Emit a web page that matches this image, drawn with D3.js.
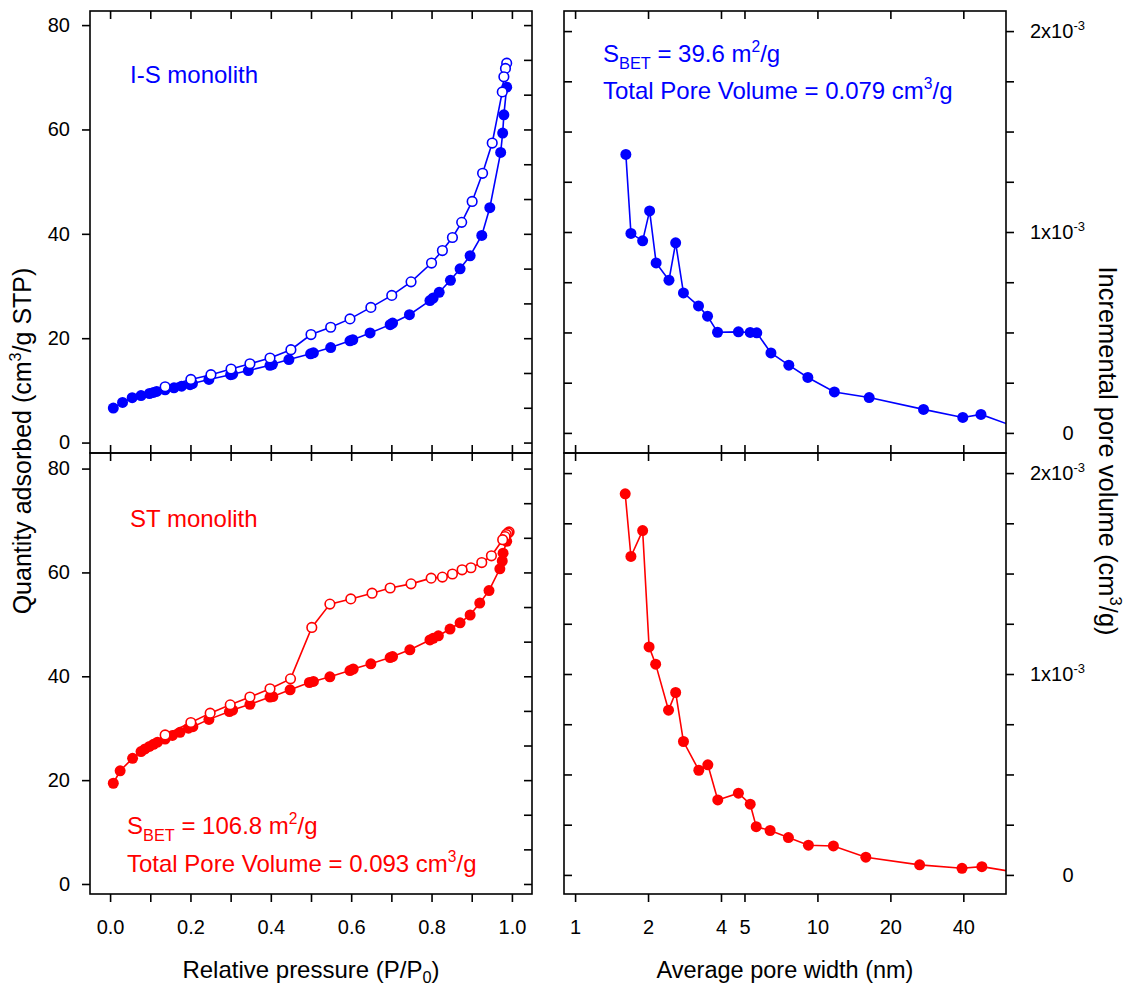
<!DOCTYPE html>
<html>
<head>
<meta charset="utf-8">
<script src="https://cdn.jsdelivr.net/npm/d3@7"></script>
<style>
  body { margin: 0; background: #fff; }
  svg text { font-family: "Liberation Sans", Arial, Helvetica, sans-serif; }
</style>
</head>
<body>
<svg id="chart" width="1127" height="988"></svg>
<script>
// ---------- Nitrogen isotherms: [relative pressure P/P0, quantity adsorbed cm3/g STP] ----------
const isAdsorption = [
  [0.008,6.6],[0.031,7.7],[0.055,8.6],[0.077,9.0],[0.098,9.4],[0.108,9.6],[0.116,9.8],[0.137,10.1],
  [0.159,10.5],[0.178,10.8],[0.199,11.1],[0.205,11.3],[0.246,12.1],[0.300,13.0],[0.305,13.1],[0.344,13.8],
  [0.398,14.8],[0.404,15.0],[0.445,15.9],[0.499,17.0],[0.506,17.2],[0.549,18.2],[0.597,19.5],[0.604,19.7],
  [0.647,21.0],[0.697,22.6],[0.703,22.9],[0.745,24.5],[0.796,27.2],[0.804,27.7],[0.819,28.8],[0.847,31.1],
  [0.871,33.3],[0.896,35.8],[0.925,39.7],[0.945,45.0],[0.972,55.6],[0.977,59.3],[0.980,62.8],[0.987,68.1]
];
const isDesorption = [
  [0.987,72.7],[0.984,71.7],[0.980,70.1],[0.976,67.2],[0.951,57.4],[0.927,51.6],[0.901,46.2],[0.875,42.2],
  [0.852,39.3],[0.827,36.8],[0.800,34.4],[0.749,30.8],[0.701,28.2],[0.649,25.9],[0.597,23.7],[0.549,22.1],
  [0.500,20.7],[0.450,17.8],[0.398,16.2],[0.348,15.1],[0.301,14.1],[0.251,13.0],[0.201,12.1],[0.137,10.7]
];
const stAdsorption = [
  [0.008,19.4],[0.025,21.8],[0.056,24.2],[0.077,25.5],[0.087,26.0],[0.098,26.5],[0.108,26.9],[0.118,27.3],
  [0.137,27.9],[0.155,28.6],[0.174,29.2],[0.195,30.0],[0.206,30.3],[0.246,31.7],[0.297,33.2],[0.305,33.5],
  [0.348,34.6],[0.398,36.0],[0.405,36.1],[0.448,37.4],[0.496,38.8],[0.506,39.0],[0.547,39.9],[0.597,41.1],
  [0.605,41.4],[0.649,42.4],[0.697,43.6],[0.703,43.8],[0.746,45.1],[0.796,47.0],[0.804,47.3],[0.817,47.8],
  [0.846,49.1],[0.871,50.3],[0.896,51.8],[0.920,54.1],[0.943,56.5],[0.970,60.7],[0.976,62.2],[0.978,63.7],
  [0.987,66.0]
];
const stDesorption = [
  [0.993,67.8],[0.990,67.6],[0.986,67.3],[0.983,66.9],[0.977,66.3],[0.949,63.2],[0.925,61.9],[0.898,60.9],
  [0.876,60.5],[0.852,59.7],[0.827,59.1],[0.799,58.9],[0.749,57.8],[0.697,57.0],[0.652,56.0],[0.599,54.9],
  [0.547,53.9],[0.502,49.4],[0.449,39.5],[0.398,37.6],[0.348,36.0],[0.299,34.5],[0.249,32.9],[0.201,31.1],
  [0.137,28.7]
];

// ---------- Pore size distributions: width (nm) and incremental pore volume (cm3/g) ----------
const isPoreWidth  = [1.62,1.70,1.90,2.03,2.16,2.44,2.60,2.80,3.23,3.52,3.87,4.72,5.28,5.62,6.43,7.62,9.13,11.75,16.35,27.4,39.8,47.3,72];
const isPoreVolume = [1.386e-3,0.993e-3,0.956e-3,1.105e-3,0.846e-3,0.760e-3,0.946e-3,0.697e-3,0.632e-3,0.581e-3,0.501e-3,0.503e-3,
                      0.500e-3,0.498e-3,0.398e-3,0.337e-3,0.276e-3,0.204e-3,0.176e-3,0.117e-3,0.077e-3,0.092e-3,0.012e-3];
const stPoreWidth  = [1.61,1.70,1.90,2.02,2.15,2.43,2.60,2.80,3.24,3.53,3.88,4.72,5.28,5.59,6.38,7.59,9.18,11.64,15.84,26.4,39.5,47.7,72];
const stPoreVolume = [1.897e-3,1.585e-3,1.714e-3,1.135e-3,1.049e-3,0.820e-3,0.908e-3,0.664e-3,0.521e-3,0.548e-3,0.373e-3,0.407e-3,
                      0.352e-3,0.240e-3,0.221e-3,0.186e-3,0.148e-3,0.144e-3,0.088e-3,0.050e-3,0.033e-3,0.041e-3,0.006e-3];

// ---------- Ticks and labels ----------
const pressureTicks  = [0,0.1,0.2,0.3,0.4,0.5,0.6,0.7,0.8,0.9,1.0];
const pressureLabels = [0,0.2,0.4,0.6,0.8,1.0];
const quantityTicks  = [0,20,40,60,80];
const quantityMinor  = d3.range(13).map(i => i * 80 / 12);
const widthTicks     = [1,2,4,5,10,20,40];
const volumeTicks    = [0,0.25e-3,0.5e-3,0.75e-3,1e-3,1.25e-3,1.5e-3,1.75e-3,2e-3];
const volumeLabels   = [
  { v: 0,    text: "0",   exp: null },
  { v: 1e-3, text: "1x10", exp: "-3" },
  { v: 2e-3, text: "2x10", exp: "-3" }
];

const BLUE = "#0000ff", RED = "#ff0000";

// ---------- Layout ----------
const svg = d3.select("#chart");
svg.append("rect").attr("width", 1127).attr("height", 988).attr("fill", "#fff");

const colL = [90, 532], colR = [564, 1006];
const rowT = [11, 453], rowB = [453, 894];

const xP = d3.scaleLinear().domain([-0.05, 1.05]).range(colL);
const xW = d3.scaleLog().domain([0.9, 60]).range(colR);
const yQTop = d3.scaleLinear().domain([-2, 82.7]).range([rowT[1], rowT[0]]);
const yQBot = d3.scaleLinear().domain([-1.93, 83.0]).range([rowB[1], rowB[0]]);
const yVTop = d3.scaleLinear().domain([-0.1e-3, 2.1e-3]).range([rowT[1], rowT[0]]);
const yVBot = d3.scaleLinear().domain([-0.095e-3, 2.1e-3]).range([rowB[1], rowB[0]]);

const defs = svg.append("defs");
function clip(id, xr, yr) {
  defs.append("clipPath").attr("id", id).append("rect")
    .attr("x", xr[0]).attr("y", yr[0]).attr("width", xr[1] - xr[0]).attr("height", yr[1] - yr[0]);
  return "url(#" + id + ")";
}

const TICK_W = 1.6;
function styleAxis(g) {
  g.select(".domain").remove();
  g.selectAll(".tick line").attr("stroke", "#000").attr("stroke-width", TICK_W);
  g.selectAll(".tick text").attr("fill", "#000").attr("font-size", 20)
    .attr("font-family", '"Liberation Sans", Arial, sans-serif');
}
function addAxis(axis, tx, ty) {
  return svg.append("g").attr("transform", `translate(${tx},${ty})`).call(axis).call(styleAxis);
}

// Rich text helper: parts = [{t, sub|sup}]
function richText(parent, x, y, parts, size, color, extra, subShift) {
  const t = parent.append("text").attr("x", x).attr("y", y).attr("font-size", size).attr("fill", color);
  if (extra) extra(t);
  let shift = 0;
  parts.forEach(p => {
    let target = 0, fs = size;
    if (p.sub) { target = size * (subShift || 0.3); fs = size * 0.68; }
    if (p.sup) { target = -size * 0.42; fs = size * 0.65; }
    t.append("tspan").attr("dy", target - shift).attr("font-size", fs).text(p.t);
    shift = target;
  });
  return t;
}

// ---------- Series drawing ----------
const lineFor = (xs, ys) => d3.line().x(d => xs(d[0])).y(d => ys(d[1]));

function drawSeries(data, xs, ys, color, open, clipUrl) {
  const g = svg.append("g").attr("clip-path", clipUrl);
  g.append("path").datum(data).attr("d", lineFor(xs, ys))
    .attr("fill", "none").attr("stroke", color).attr("stroke-width", 1.6);
  g.selectAll("circle").data(data).join("circle")
    .attr("cx", d => xs(d[0])).attr("cy", d => ys(d[1])).attr("r", open ? 4.8 : 5.5)
    .attr("fill", open ? "#fff" : color)
    .attr("stroke", color).attr("stroke-width", open ? 1.6 : 0);
}

const clipTL = clip("clipTL", colL, rowT), clipBL = clip("clipBL", colL, rowB);
const clipTR = clip("clipTR", colR, rowT), clipBR = clip("clipBR", colR, rowB);

drawSeries(isAdsorption, xP, yQTop, BLUE, false, clipTL);
drawSeries(isDesorption, xP, yQTop, BLUE, true, clipTL);
drawSeries(stAdsorption, xP, yQBot, RED, false, clipBL);
drawSeries(stDesorption, xP, yQBot, RED, true, clipBL);
drawSeries(d3.zip(isPoreWidth, isPoreVolume), xW, yVTop, BLUE, false, clipTR);
drawSeries(d3.zip(stPoreWidth, stPoreVolume), xW, yVBot, RED, false, clipBR);

// ---------- Axes: isotherm column ----------
const fmtP = d => pressureLabels.some(v => Math.abs(v - d) < 1e-9) ? d3.format(".1f")(d) : "";
addAxis(d3.axisLeft(yQTop).tickValues(quantityTicks).tickSize(8).tickPadding(12).tickFormat(d3.format("d")), colL[0], 0);
addAxis(d3.axisLeft(yQBot).tickValues(quantityTicks).tickSize(8).tickPadding(12).tickFormat(d3.format("d")), colL[0], 0);
addAxis(d3.axisRight(yQTop).tickValues(quantityMinor).tickSize(-8).tickFormat(""), colL[1], 0);
addAxis(d3.axisRight(yQBot).tickValues(quantityMinor).tickSize(-8).tickFormat(""), colL[1], 0);
addAxis(d3.axisTop(xP).tickValues(pressureTicks).tickSize(-8).tickFormat(""), 0, rowT[0]);
addAxis(d3.axisBottom(xP).tickValues(pressureTicks).tickSize(-8).tickFormat(""), 0, rowT[1]);
addAxis(d3.axisTop(xP).tickValues(pressureTicks).tickSize(-8).tickFormat(""), 0, rowB[0]);
addAxis(d3.axisBottom(xP).tickValues(pressureTicks).tickSize(8).tickPadding(18).tickFormat(fmtP), 0, rowB[1]);

// ---------- Axes: pore size column ----------
addAxis(d3.axisLeft(yVTop).tickValues(volumeTicks).tickSize(-8).tickFormat(""), colR[0], 0);
addAxis(d3.axisLeft(yVBot).tickValues(volumeTicks).tickSize(-8).tickFormat(""), colR[0], 0);
addAxis(d3.axisRight(yVTop).tickValues(volumeTicks).tickSize(8).tickFormat(""), colR[1], 0);
addAxis(d3.axisRight(yVBot).tickValues(volumeTicks).tickSize(8).tickFormat(""), colR[1], 0);
addAxis(d3.axisTop(xW).tickValues(widthTicks).tickSize(-8).tickFormat(""), 0, rowT[0]);
addAxis(d3.axisBottom(xW).tickValues(widthTicks).tickSize(-8).tickFormat(""), 0, rowT[1]);
addAxis(d3.axisTop(xW).tickValues(widthTicks).tickSize(-8).tickFormat(""), 0, rowB[0]);
addAxis(d3.axisBottom(xW).tickValues(widthTicks).tickSize(8).tickPadding(18).tickFormat(d3.format("d")), 0, rowB[1]);

// Right-hand volume labels with exponent
[yVTop, yVBot].forEach(ys => {
  volumeLabels.forEach(l => {
    const y = ys(l.v) + 7;
    if (l.exp) {
      richText(svg, colR[1] + 24, y, [{ t: l.text }, { t: l.exp, sup: true }], 20, "#000");
    } else {
      svg.append("text").attr("x", colR[1] + 62).attr("y", y).attr("text-anchor", "middle")
        .attr("font-size", 20).attr("fill", "#000").text(l.text);
    }
  });
});

// ---------- Panel frames ----------
[[colL, rowT], [colL, rowB], [colR, rowT], [colR, rowB]].forEach(([xr, yr]) => {
  svg.append("rect").attr("x", xr[0]).attr("y", yr[0])
    .attr("width", xr[1] - xr[0]).attr("height", yr[1] - yr[0])
    .attr("fill", "none").attr("stroke", "#000").attr("stroke-width", TICK_W);
});

// ---------- Axis titles ----------
richText(svg, (colL[0] + colL[1]) / 2, 978,
  [{ t: "Relative pressure (P/P" }, { t: "0", sub: true }, { t: ")" }], 24, "#000",
  t => t.attr("text-anchor", "middle"), 0.2);
svg.append("text").attr("x", (colR[0] + colR[1]) / 2).attr("y", 978).attr("text-anchor", "middle")
  .attr("font-size", 23.5).attr("fill", "#000").text("Average pore width (nm)");
richText(svg, 0, 0,
  [{ t: "Quantity adsorbed (cm" }, { t: "3", sup: true }, { t: "/g STP)" }], 25, "#000",
  t => t.attr("text-anchor", "middle").attr("transform", "translate(31,441) rotate(-90)"));
richText(svg, 0, 0,
  [{ t: "Incremental pore volume (cm" }, { t: "3", sup: true }, { t: "/g)" }], 25.5, "#000",
  t => t.attr("text-anchor", "middle").attr("transform", "translate(1099,451) rotate(90)"));

// ---------- Annotations ----------
svg.append("text").attr("x", 130).attr("y", 83).attr("font-size", 24).attr("fill", BLUE).text("I-S monolith");
svg.append("text").attr("x", 130).attr("y", 527).attr("font-size", 24).attr("fill", RED).text("ST monolith");

richText(svg, 603, 62, [{ t: "S" }, { t: "BET", sub: true }, { t: " = 39.6 m" }, { t: "2", sup: true }, { t: "/g" }], 24, BLUE);
richText(svg, 603, 99, [{ t: "Total Pore Volume = 0.079 cm" }, { t: "3", sup: true }, { t: "/g" }], 24, BLUE);
richText(svg, 127, 834, [{ t: "S" }, { t: "BET", sub: true }, { t: " = 106.8 m" }, { t: "2", sup: true }, { t: "/g" }], 24, RED);
richText(svg, 127, 872, [{ t: "Total Pore Volume = 0.093 cm" }, { t: "3", sup: true }, { t: "/g" }], 24, RED);
</script>
</body>
</html>
